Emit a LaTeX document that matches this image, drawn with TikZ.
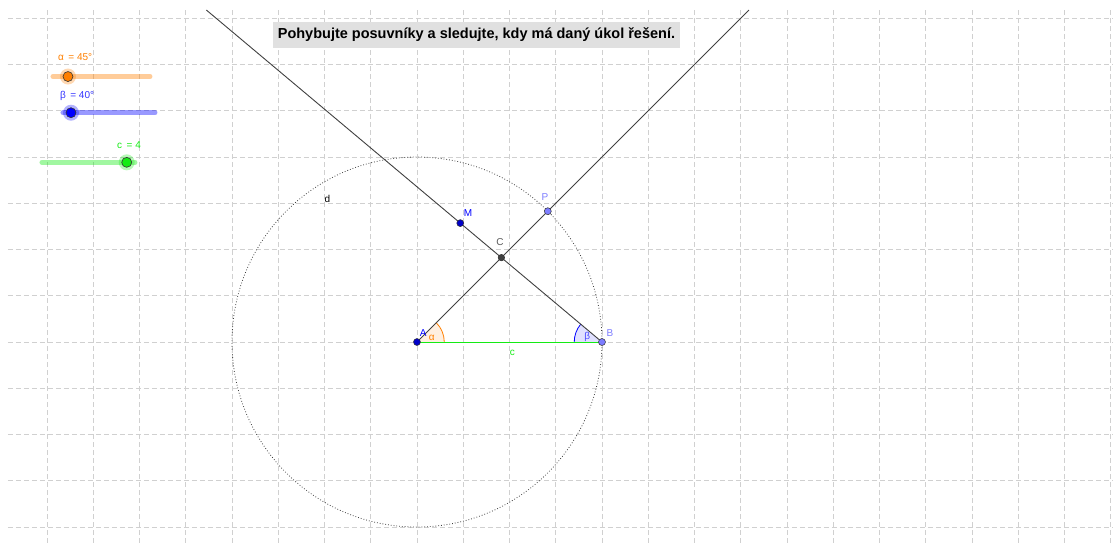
\documentclass[tikz,border=0pt]{standalone}
\usepackage{fontspec}
\setmainfont{Liberation Sans}
\usetikzlibrary{calc,positioning}
\definecolor{ggorange}{RGB}{255,127,0}
\definecolor{ggblue}{RGB}{0,0,255}
\definecolor{ggdarkblue}{RGB}{0,0,200}
\definecolor{gglight}{RGB}{125,125,255}
\definecolor{gggreen}{RGB}{20,235,20}
\definecolor{gggray}{RGB}{64,64,64}
\definecolor{gridgray}{RGB}{208,208,208}
\definecolor{titlegray}{RGB}{224,224,224}
\tikzset{
    gridline/.style={gridgray, line width=0.8pt, dash pattern=on 5pt off 3pt},
    rayline/.style={gggray, line width=0.9pt},
    ptdot/.style={circle, draw=black!80, line width=0.5pt, inner sep=0pt, minimum size=7pt},
    ptlabel/.style={font=\fontsize{10}{12}\selectfont, inner sep=0pt},
    titlebox/.style={fill=titlegray, font=\fontsize{14.5}{17}\selectfont\bfseries,
        inner xsep=5pt, minimum height=26pt},
    sliderbar/.style={line width=5pt, line cap=round, draw opacity=0.4},
    sliderknob/.style={circle, draw=black!80, line width=0.6pt, inner sep=0pt, minimum size=10pt},
    sliderhalo/.style={circle, inner sep=0pt, minimum size=16pt, fill opacity=0.3}
}

\begin{document}
\begin{tikzpicture}[x=46.25pt, y=46.25pt]
\useasboundingbox (-9.016,-4.368) rectangle (15.049,7.395);

% grid of the view
\begin{scope}
\clip (-8.843,-4.368) rectangle (15.049,7.178);
\foreach \gx in {-8,...,15}
    \draw[gridline] (\gx,7.178) -- (\gx,-4.368);
\foreach \gy in {-4,...,7}
    \draw[gridline] (-8.843,\gy) -- (15.049,\gy);
\end{scope}

% construction points
\coordinate (A) at (0,0);
\coordinate (B) at (4,0);
\coordinate (C) at (45:2.581);
\coordinate (P) at (45:4);
\coordinate (M) at ($(B)+(140:4)$);
\coordinate (Aend) at (45:10.151);
\coordinate (Bend) at ($(B)+(140:11.167)$);

% circle d
\draw[gggray, line width=0.8pt, dash pattern=on 0.8pt off 2pt] (A) circle (4);

% angles
\fill[ggorange, fill opacity=0.12] (A) -- (0.59,0) arc (0:45:0.59) -- cycle;
\draw[ggorange, line width=0.8pt] (0.59,0) arc (0:45:0.59);
\fill[ggblue, fill opacity=0.12] (B) -- ($(B)+(140:0.6)$) arc (140:180:0.6) -- cycle;
\draw[ggblue, line width=0.8pt] ($(B)+(140:0.6)$) arc (140:180:0.6);

% rays and side c
\draw[rayline] (A) -- (Aend);
\draw[rayline] (B) -- (Bend);
\draw[gggreen, line width=1pt] (A) -- (B);

% points
\node[ptdot, fill=ggdarkblue] (pA) at (A) {};
\node[ptdot, fill=gglight] (pB) at (B) {};
\node[ptdot, fill=gggray, minimum size=6.5pt] (pC) at (C) {};
\node[ptdot, fill=gglight] (pP) at (P) {};
\node[ptdot, fill=ggdarkblue] (pM) at (M) {};

% labels
\node[ptlabel, ggblue] (labA) at (0.137,0.2) {A};
\node[ptlabel, gglight] (labB) at (4.173,0.188) {B};
\node[ptlabel, black!65] (labC) at (1.795,2.162) {C};
\node[ptlabel, gglight] (labP) at (2.768,3.135) {P};
\node[ptlabel, ggblue] (labM) at (1.103,2.789) {M};
\node[ptlabel, ggorange] (labAlpha) at (0.317,0.1) {α};
\node[ptlabel, ggblue!70] (labBeta) at (3.683,0.115) {β};
\node[ptlabel, gggreen] (labc) at (2.06,-0.245) {c};
\node[ptlabel, black] (labd) at (-1.939,3.092) {d};

% title
\node[titlebox] (title) at (1.286,6.638) {Pohybujte posuvníky a sledujte, kdy má daný úkol řešení.};

% slider alpha
\coordinate (alphaL) at (-7.87,5.74);
\coordinate (alphaR) at (-5.773,5.74);
\draw[sliderbar, ggorange] (alphaL) -- (alphaR);
\node[sliderhalo, fill=ggorange] (alphaHalo) at (-7.546,5.74) {};
\node[sliderknob, fill=ggorange] (alphaKnob) at (-7.546,5.74) {};
\node[ptlabel, ggorange, anchor=west] (alphaText) at (-7.762,6.162) {α \,= 45°};

% slider beta
\coordinate (betaL) at (-7.654,4.958);
\coordinate (betaR) at (-5.665,4.958);
\draw[sliderbar, ggblue] (betaL) -- (betaR);
\node[sliderhalo, fill=ggblue] (betaHalo) at (-7.481,4.958) {};
\node[sliderknob, fill=ggblue] (betaKnob) at (-7.481,4.958) {};
\node[ptlabel, ggblue!80, anchor=west] (betaText) at (-7.72,5.319) {β \,= 40°};

% slider c
\coordinate (cL) at (-8.108,3.885);
\coordinate (cR) at (-6.097,3.885);
\draw[sliderbar, gggreen] (cL) -- (cR);
\node[sliderhalo, fill=gggreen] (cHalo) at (-6.276,3.885) {};
\node[sliderknob, fill=gggreen] (cKnob) at (-6.276,3.885) {};
\node[ptlabel, gggreen, anchor=west] (cText) at (-6.486,4.259) {c \,= 4};
\end{tikzpicture}
\end{document}
